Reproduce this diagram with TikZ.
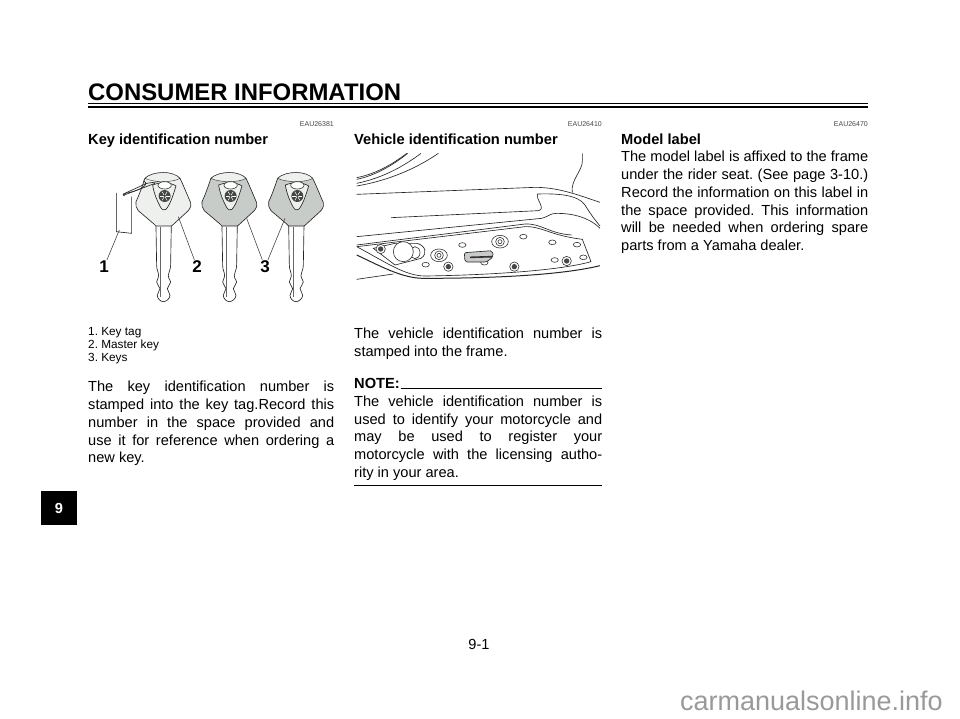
\documentclass[tikz,border=0pt]{standalone}
\usepackage{fontspec}
\setmainfont{Liberation Sans}
\usepackage{xcolor}
\usetikzlibrary{positioning,calc}
\definecolor{keygrey}{RGB}{200,204,200}
\definecolor{keypale}{RGB}{238,240,238}
\definecolor{inkgrey}{RGB}{70,70,70}
\definecolor{markgrey}{RGB}{153,153,153}
\tikzset{
    bodyline/.style={anchor=base west, inner sep=0pt, font=\fontsize{14.6}{18}\selectfont},
    headline/.style={anchor=base west, inner sep=0pt, font=\fontsize{14.65}{18}\selectfont\bfseries},
    smallline/.style={anchor=base west, inner sep=0pt, font=\fontsize{11.8}{14}\selectfont},
    codeline/.style={anchor=base east, inner sep=0pt, font=\fontsize{7}{8}\selectfont, text=inkgrey},
    callout/.style={inner sep=1pt, font=\fontsize{17}{18}\selectfont\bfseries},
    leader/.style={draw=inkgrey, line width=0.6pt},
    sketch/.style={draw=black!85, line width=0.65pt},
    hole/.style={draw=black!80, fill=white, line width=0.6pt}
}
% one key, centred on x, fill of the head
\newcommand{\drawkey}[2]{
    \begin{scope}[shift={(#1,150)},scale=1/3]
        \draw[sketch, fill=white] (-22,226) -- (-20,345) .. controls (-20,362) and (-14,365) .. (-14,378)
            .. controls (-14,388) and (-20,388) .. (-20,396) .. controls (-20,405) and (-10,408) .. (-10,416)
            .. controls (-10,424) and (-18,426) .. (-18,436) .. controls (-18,446) and (-8,455) .. (0,455)
            .. controls (8,455) and (20,446) .. (20,436) .. controls (20,426) and (12,424) .. (12,416)
            .. controls (12,408) and (22,405) .. (22,396) .. controls (22,388) and (15,388) .. (15,376)
            .. controls (15,365) and (22,362) .. (22,345) -- (24,226) -- cycle;
        \draw[sketch, line width=0.9pt, black!60] (-9,230) -- (-9,440);
        \draw[sketch, fill=#2] (0,68) .. controls (-25,68) and (-45,75) .. (-55,85)
            .. controls (-62,105) and (-72,135) .. (-82,155) .. controls (-85,165) and (-80,175) .. (-75,182)
            -- (-28,222) -- (-22,228) -- (24,228) -- (28,225) -- (75,182)
            .. controls (82,172) and (85,165) .. (82,158) .. controls (72,135) and (60,105) .. (50,85)
            .. controls (40,75) and (25,68) .. (0,68) -- cycle;
        \draw[sketch, line width=0.4pt, fill=keypale] (-55,85) .. controls (-45,75) and (-25,68) .. (0,68)
            .. controls (25,68) and (40,75) .. (50,85) .. controls (30,98) and (-30,98) .. (-55,85) -- cycle;
        \draw[sketch, fill=keypale] (-32,105) .. controls (-10,96) and (20,96) .. (38,108)
            .. controls (30,135) and (20,165) .. (8,178) .. controls (3,182) and (-3,180) .. (-8,172)
            .. controls (-20,150) and (-28,130) .. (-32,105) -- cycle;
        \draw[hole] (4,106) ellipse (20 and 11);
        \fill[inkgrey] (4,138) circle (18);
        \foreach \ang in {0,60,120}
            \draw[white, line width=0.5pt] (4,138) ++(\ang:15) -- ++(\ang+180:30);
        \fill[inkgrey] (4,138) circle (4);
    \end{scope}
}
\begin{document}
\frenchspacing
\begin{tikzpicture}[x=1pt, y=-1pt]
    \useasboundingbox (0,0) rectangle (960,718);

    % header
    \node[anchor=base west, inner sep=0pt, font=\fontsize{23.9}{26}\selectfont\bfseries] (title) at (88,100) {CONSUMER INFORMATION};
    \draw[line width=1pt] (88,103.6) -- (868,103.6);
    \draw[line width=2.2pt] (88,107.2) -- (868,107.2);

    % codes and headings
    \node[codeline] (code1) at (334,126) {EAU26381};
    \node[codeline] (code2) at (602,126) {EAU26410};
    \node[codeline] (code3) at (868,126) {EAU26470};
    \node[headline] (head1) at (88,144) {Key identification number};
    \node[headline] (head2) at (354,144) {Vehicle identification number};
    \node[headline] (head3) at (621,144) {Model label};

    % keys
    \drawkey{163.3}{keypale}
    \drawkey{229.3}{keygrey}
    \drawkey{296}{keygrey}
    \begin{scope}[shift={(80,150)},scale=1/3]
        \draw[sketch] (130,136) -- (225,100);
        \draw[sketch] (130,132) -- (200,100) -- (235,95);
        \draw[sketch] (135,130) .. controls (170,125) and (215,105) .. (190,92);
        \fill[inkgrey] (132,134) circle (4);
        \draw[sketch, line width=1pt, black!60] (108,128) -- (108,245);
        \draw[sketch] (108,245) -- (155,250) -- (155,140);
        \coordinate (tagend) at (118,240);
        \coordinate (masterend) at (295,200);
        \coordinate (keyendA) at (500,205);
        \coordinate (keyendB) at (615,205);
    \end{scope}
    \node[callout] (num1) at (104,267) {1};
    \node[callout] (num2) at (197,267) {2};
    \node[callout] (num3) at (265,267) {3};
    \draw[leader] (tagend) -- (num1);
    \draw[leader] (masterend) -- (num2);
    \draw[leader] (keyendA) -- (num3);
    \draw[leader] (keyendB) -- (num3);

    % frame
    \begin{scope}[shift={(345,150)},scale=1/3]
        \draw[sketch] (35,83) .. controls (90,72) and (140,45) .. (185,10);
        \draw[sketch] (35,88) .. controls (90,77) and (145,45) .. (188,10);
        \draw[sketch] (35,100) .. controls (110,85) and (175,50) .. (228,10);
        \draw[sketch] (35,108) .. controls (130,92) and (215,55) .. (280,10);
        \draw[sketch] (35,133) -- (570,112) .. controls (640,112) and (700,135) .. (765,157);
        \draw[sketch] (712,10) -- (712,35) .. controls (712,60) and (675,95) .. (682,128);
        \draw[sketch] (138,203) -- (580,182) .. controls (605,178) and (570,145) .. (578,132)
            .. controls (640,130) and (700,135) .. (720,165) .. controls (735,190) and (750,210) .. (765,228);
        \draw[sketch] (35,260) -- (590,205) .. controls (610,200) and (615,190) .. (635,190)
            .. controls (680,190) and (730,200) .. (765,235);
        \draw[sketch] (35,285) -- (540,222) .. controls (590,220) and (610,250) .. (680,255);
        \draw[sketch] (35,290) -- (540,230) .. controls (590,228) and (610,255) .. (712,268)
            -- (738,335) .. controls (650,360) and (450,375) .. (240,378)
            .. controls (180,378) and (120,335) .. (35,290);
        \draw[sketch, line width=1pt] (35,315) .. controls (100,345) and (170,385) .. (235,385)
            .. controls (450,385) and (650,375) .. (765,347);
        \draw[sketch] (35,388) -- (145,372);
        \draw[sketch] (85,295) -- (150,280) -- (215,280) .. controls (240,285) and (250,310) .. (228,325)
            -- (150,345) -- cycle;
        \draw[hole] (210,308) ellipse (15 and 18);
        \draw[hole] (175,305) circle (30);
        \foreach \hx/\hy in {535/260,622/277,696/284,715/322,629/330,352/285,418/338,242/344}
            \draw[hole] (\hx,\hy) ellipse (11 and 7);
        \foreach \hx/\hy in {465/275,282/316} {
            \draw[hole] (\hx,\hy) ellipse (25 and 19);
            \draw[hole] (\hx,\hy) circle (13);
            \draw[hole] (\hx,\hy) circle (6);
        }
        \foreach \hx/\hy in {310/350,508/350,665/333,107/297} {
            \draw[hole] (\hx,\hy) circle (14);
            \fill[inkgrey] (\hx,\hy) circle (8);
        }
        \draw[sketch, fill=keygrey, rounded corners=2pt] (358,308) -- (442,302) -- (445,320) -- (425,336) -- (360,336) -- cycle;
        \draw[black!80, line width=1.6pt] (375,322) -- (442,320);
    \end{scope}

    % texts of the left column
    \node[smallline] (item1) at (88,335) {1. Key tag};
    \node[smallline] (item2) at (88,348.3) {2. Master key};
    \node[smallline] (item3) at (88,361.7) {3. Keys};
    \foreach \txt [count=\i from 0] in {The key identification number is,
        stamped into the key tag.Record this,
        number in the space provided and,
        use it for reference when ordering a,
        new key.\hfill}
        \node[bodyline] (keyline\i) at (88,391.7+17.8*\i) {\makebox[246pt][s]{\txt}};

    % texts of the middle column
    \foreach \txt [count=\i from 0] in {The vehicle identification number is,
        stamped into the frame.\hfill}
        \node[bodyline] (vinline\i) at (354,338+18*\i) {\makebox[248pt][s]{\txt}};
    \node[headline] (note) at (354,388.3) {NOTE:};
    \draw[line width=0.8pt] (note.base east) ++(1,0) coordinate (noterule) -- (602,388.3);
    \foreach \txt [count=\i from 0] in {The vehicle identification number is,
        used to identify your motorcycle and,
        may be used to register your,
        motorcycle with the licensing autho-,
        rity in your area.\hfill}
        \node[bodyline] (noteline\i) at (354,406.7+17.6*\i) {\makebox[248pt][s]{\txt}};
    \draw[line width=0.8pt] (354,485.7) -- (602,485.7);

    % texts of the right column
    \foreach \txt [count=\i from 0] in {The model label is affixed to the frame,
        {under the rider seat. (See page 3-10.)},
        Record the information on this label in,
        the space provided. This information,
        will be needed when ordering spare,
        parts from a Yamaha dealer.\hfill}
        \node[bodyline] (modelline\i) at (621,161.7+17.8*\i) {\makebox[247pt][s]{\txt}};

    % tab and footer
    \node[fill=black, text=white, minimum width=36pt, minimum height=34pt, inner sep=0pt, font=\fontsize{14.6}{18}\selectfont\bfseries] (tab) at (59,508) {9};
    \node[anchor=base, inner sep=0pt, font=\fontsize{14.6}{14}\selectfont] (pageno) at (479,649) {9-1};
    \node[anchor=base east, inner sep=0pt, font=\fontsize{27}{29}\selectfont, text=markgrey] (mark) at (943,710) {carmanualsonline.info};
\end{tikzpicture}
\end{document}
